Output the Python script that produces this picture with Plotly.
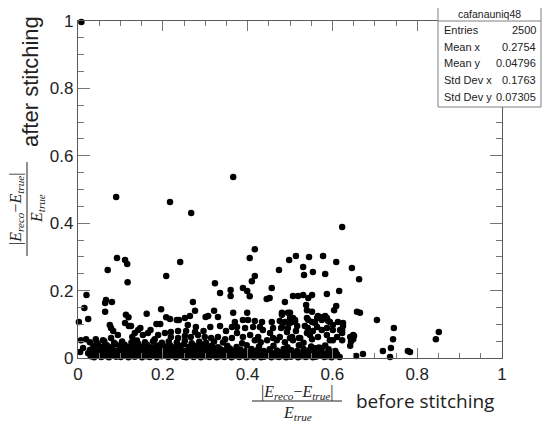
import plotly.graph_objects as go

# points, grouped by region of the scatter
outliers = [(0.008, 0.997), (0.090, 0.478), (0.217, 0.463), (0.267, 0.430), (0.366, 0.537),
            (0.623, 0.389), (0.417, 0.323), (0.092, 0.297), (0.111, 0.291), (0.116, 0.279),
            (0.241, 0.285), (0.070, 0.261), (0.117, 0.225), (0.208, 0.243), (0.020, 0.187),
            (0.405, 0.297), (0.417, 0.243), (0.410, 0.228), (0.323, 0.222), (0.335, 0.193),
            (0.360, 0.202), (0.360, 0.184), (0.389, 0.208), (0.399, 0.199), (0.405, 0.183),
            (0.457, 0.208), (0.445, 0.175), (0.452, 0.178), (0.498, 0.291), (0.514, 0.303),
            (0.545, 0.300), (0.578, 0.303), (0.609, 0.285), (0.474, 0.261), (0.531, 0.270),
            (0.533, 0.246), (0.554, 0.255), (0.583, 0.249), (0.646, 0.267), (0.663, 0.234),
            (0.616, 0.199), (0.587, 0.190), (0.507, 0.184), (0.519, 0.184), (0.531, 0.187),
            (0.552, 0.187), (0.543, 0.178), (0.488, 0.166), (0.538, 0.157), (0.540, 0.142),
            (0.552, 0.137), (0.609, 0.154), (0.604, 0.142), (0.658, 0.137), (0.665, 0.134),
            (0.705, 0.113), (0.745, 0.089), (0.743, 0.056), (0.738, 0.030), (0.719, 0.021),
            (0.778, 0.021), (0.783, 0.018), (0.851, 0.077), (0.844, 0.056), (0.672, 0.012),
            (0.656, 0.006), (0.736, 0.003)]

mid_scatter = [(0.370, 0.107), (0.363, 0.092), (0.389, 0.113), (0.401, 0.113), (0.417, 0.110),
               (0.434, 0.107), (0.375, 0.092), (0.394, 0.089), (0.413, 0.092), (0.429, 0.092),
               (0.481, 0.128), (0.495, 0.134), (0.507, 0.119), (0.488, 0.107), (0.500, 0.104),
               (0.512, 0.107), (0.481, 0.092), (0.495, 0.089), (0.517, 0.095), (0.540, 0.119),
               (0.552, 0.107), (0.564, 0.119), (0.578, 0.122), (0.587, 0.119), (0.594, 0.107),
               (0.601, 0.098), (0.613, 0.107), (0.625, 0.104), (0.542, 0.089), (0.564, 0.092),
               (0.575, 0.083), (0.587, 0.089), (0.601, 0.083), (0.623, 0.083), (0.547, 0.068),
               (0.566, 0.062), (0.587, 0.068), (0.594, 0.053), (0.611, 0.062), (0.623, 0.053),
               (0.642, 0.062), (0.649, 0.068), (0.493, 0.077), (0.476, 0.062), (0.505, 0.062),
               (0.469, 0.053), (0.488, 0.047), (0.507, 0.053), (0.524, 0.059), (0.436, 0.083),
               (0.453, 0.074), (0.425, 0.062), (0.446, 0.053), (0.460, 0.059), (0.406, 0.068),
               (0.417, 0.053), (0.389, 0.062), (0.375, 0.074), (0.363, 0.059), (0.002, 0.107),
               (0.015, 0.148), (0.024, 0.116), (0.064, 0.163), (0.066, 0.172), (0.064, 0.137),
               (0.080, 0.166), (0.075, 0.098), (0.078, 0.089), (0.083, 0.080), (0.113, 0.128),
               (0.119, 0.121), (0.111, 0.104), (0.120, 0.095), (0.162, 0.131), (0.196, 0.145),
               (0.185, 0.101), (0.194, 0.101), (0.208, 0.121), (0.217, 0.116), (0.233, 0.113),
               (0.238, 0.113), (0.252, 0.119), (0.264, 0.125), (0.276, 0.140), (0.271, 0.166),
               (0.301, 0.122), (0.307, 0.125), (0.321, 0.140), (0.330, 0.122), (0.335, 0.095),
               (0.349, 0.080), (0.366, 0.134), (0.399, 0.134), (0.278, 0.092), (0.259, 0.098),
               (0.276, 0.077), (0.255, 0.080), (0.236, 0.080), (0.219, 0.077), (0.205, 0.074),
               (0.189, 0.068), (0.165, 0.074), (0.153, 0.068), (0.142, 0.083), (0.134, 0.074),
               (0.094, 0.068), (0.078, 0.059), (0.059, 0.053), (0.042, 0.056), (0.028, 0.047),
               (0.019, 0.056), (0.007, 0.053), (0.005, 0.018), (0.012, 0.030), (0.219, 0.062),
               (0.236, 0.059), (0.252, 0.065), (0.266, 0.062), (0.283, 0.068), (0.299, 0.062),
               (0.314, 0.059), (0.330, 0.062), (0.347, 0.056), (0.457, 0.107), (0.460, 0.089),
               (0.476, 0.110), (0.479, 0.089), (0.500, 0.134), (0.500, 0.119), (0.512, 0.113),
               (0.618, 0.083), (0.601, 0.053), (0.575, 0.030), (0.644, 0.050), (0.649, 0.056),
               (0.651, 0.065), (0.642, 0.036), (0.625, 0.095), (0.623, 0.074), (0.583, 0.125),
               (0.590, 0.110), (0.575, 0.113), (0.566, 0.125), (0.559, 0.104), (0.554, 0.080),
               (0.552, 0.056), (0.540, 0.074), (0.535, 0.095), (0.543, 0.113), (0.514, 0.080),
               (0.500, 0.059), (0.521, 0.059), (0.481, 0.134), (0.128, 0.062), (0.147, 0.089),
               (0.171, 0.083), (0.181, 0.056), (0.125, 0.095), (0.296, 0.080), (0.312, 0.092)]

band_a = [(0.030, 0.005), (0.038, 0.002), (0.049, 0.007), (0.055, 0.003), (0.066, 0.006),
          (0.073, 0.002), (0.084, 0.008), (0.090, 0.004), (0.101, 0.003), (0.108, 0.007),
          (0.119, 0.002), (0.127, 0.006), (0.134, 0.004), (0.145, 0.008), (0.151, 0.002),
          (0.162, 0.005), (0.169, 0.003), (0.180, 0.007), (0.186, 0.002), (0.197, 0.005),
          (0.205, 0.008), (0.213, 0.003), (0.224, 0.006), (0.231, 0.002), (0.240, 0.007),
          (0.249, 0.004), (0.255, 0.002), (0.266, 0.006), (0.273, 0.003), (0.284, 0.008),
          (0.290, 0.002), (0.301, 0.005), (0.310, 0.003), (0.316, 0.007), (0.327, 0.002),
          (0.334, 0.005), (0.345, 0.003), (0.351, 0.008), (0.362, 0.002), (0.369, 0.006),
          (0.380, 0.003), (0.386, 0.007), (0.397, 0.002), (0.404, 0.005), (0.414, 0.003),
          (0.421, 0.006), (0.432, 0.002), (0.439, 0.004), (0.449, 0.007), (0.456, 0.002),
          (0.467, 0.005), (0.474, 0.003), (0.484, 0.006), (0.491, 0.002), (0.502, 0.004),
          (0.509, 0.007), (0.519, 0.002), (0.526, 0.005), (0.537, 0.003), (0.544, 0.006),
          (0.554, 0.002), (0.561, 0.004), (0.572, 0.007), (0.581, 0.003), (0.589, 0.005),
          (0.598, 0.002), (0.608, 0.006), (0.617, 0.003)]

band_b = [(0.024, 0.014), (0.034, 0.017), (0.043, 0.012), (0.051, 0.018), (0.060, 0.013),
          (0.069, 0.016), (0.078, 0.011), (0.087, 0.017), (0.095, 0.014), (0.104, 0.012),
          (0.113, 0.018), (0.122, 0.013), (0.130, 0.016), (0.139, 0.011), (0.148, 0.015),
          (0.157, 0.018), (0.165, 0.012), (0.174, 0.016), (0.183, 0.013), (0.191, 0.018),
          (0.200, 0.011), (0.209, 0.015), (0.218, 0.017), (0.226, 0.012), (0.235, 0.016),
          (0.244, 0.013), (0.252, 0.018), (0.261, 0.011), (0.270, 0.015), (0.279, 0.017),
          (0.287, 0.012), (0.296, 0.016), (0.305, 0.013), (0.313, 0.018), (0.322, 0.011),
          (0.331, 0.015), (0.340, 0.013), (0.349, 0.017), (0.358, 0.012), (0.366, 0.016),
          (0.375, 0.014), (0.384, 0.011), (0.393, 0.017), (0.402, 0.013), (0.411, 0.016),
          (0.420, 0.012), (0.428, 0.018), (0.437, 0.014), (0.446, 0.011), (0.455, 0.016),
          (0.464, 0.013), (0.473, 0.018), (0.482, 0.012), (0.491, 0.015), (0.500, 0.017),
          (0.509, 0.012), (0.518, 0.016), (0.527, 0.013), (0.536, 0.018), (0.545, 0.011),
          (0.554, 0.015), (0.563, 0.012), (0.572, 0.017), (0.584, 0.013), (0.596, 0.016),
          (0.611, 0.011)]

band_c = [(0.028, 0.024), (0.037, 0.028), (0.046, 0.022), (0.055, 0.027), (0.064, 0.023),
          (0.073, 0.029), (0.082, 0.024), (0.091, 0.021), (0.100, 0.027), (0.109, 0.023),
          (0.118, 0.029), (0.127, 0.022), (0.136, 0.026), (0.145, 0.030), (0.154, 0.023),
          (0.163, 0.027), (0.172, 0.021), (0.181, 0.025), (0.190, 0.029), (0.199, 0.023),
          (0.208, 0.027), (0.217, 0.022), (0.226, 0.026), (0.235, 0.030), (0.244, 0.024),
          (0.253, 0.021), (0.262, 0.027), (0.271, 0.023), (0.280, 0.029), (0.289, 0.022),
          (0.298, 0.026), (0.307, 0.024), (0.316, 0.028), (0.325, 0.022), (0.336, 0.026),
          (0.347, 0.023), (0.358, 0.028), (0.371, 0.022), (0.383, 0.025), (0.396, 0.021),
          (0.409, 0.027), (0.422, 0.023), (0.438, 0.021), (0.452, 0.026), (0.469, 0.022),
          (0.485, 0.027), (0.503, 0.023), (0.517, 0.021), (0.532, 0.027), (0.546, 0.024),
          (0.559, 0.029), (0.573, 0.022), (0.591, 0.026), (0.607, 0.021)]

band_d = [(0.036, 0.035), (0.047, 0.040), (0.058, 0.033), (0.068, 0.038), (0.079, 0.032),
          (0.089, 0.041), (0.098, 0.035), (0.110, 0.039), (0.121, 0.033), (0.131, 0.037),
          (0.142, 0.042), (0.153, 0.034), (0.163, 0.039), (0.174, 0.032), (0.185, 0.037),
          (0.196, 0.041), (0.206, 0.034), (0.217, 0.038), (0.228, 0.032), (0.239, 0.036),
          (0.250, 0.041), (0.261, 0.033), (0.272, 0.038), (0.283, 0.035), (0.294, 0.040),
          (0.305, 0.033), (0.316, 0.037), (0.330, 0.032), (0.352, 0.036), (0.374, 0.033),
          (0.398, 0.038), (0.427, 0.034), (0.461, 0.036), (0.494, 0.032), (0.521, 0.038),
          (0.550, 0.034), (0.568, 0.031), (0.583, 0.037)]

band_e = [(0.044, 0.047), (0.062, 0.050), (0.085, 0.045), (0.104, 0.049), (0.126, 0.046),
          (0.139, 0.052), (0.158, 0.047), (0.177, 0.050), (0.198, 0.045), (0.214, 0.049),
          (0.233, 0.046), (0.252, 0.051), (0.268, 0.044), (0.286, 0.048), (0.302, 0.045),
          (0.321, 0.049), (0.342, 0.046), (0.387, 0.044), (0.431, 0.047), (0.532, 0.045)]

stats_title = "cafanauniq48"
stats_names = ["Entries", "Mean x", "Mean y", "Std Dev x", "Std Dev y"]
stats_values = ["2500", "0.2754", "0.04796", "0.1763", "0.07305"]

# page has an 8px body margin, so the figure is 8px smaller than the window
OFF = 8
W, H = 550 - OFF, 426 - OFF
L, R, T, B = 78 - OFF, 48, 21 - OFF, 68


def px(x):
    # window pixel column -> paper x
    return (x - OFF - L) / (W - L - R)


def py(y):
    # window pixel row -> paper y
    return (H - B - (y - OFF)) / (H - T - B)


pts = outliers + mid_scatter + band_a + band_b + band_c + band_d + band_e
xs = [p[0] for p in pts]
ys = [p[1] for p in pts]

fig = go.Figure(go.Scatter(x=xs, y=ys, mode="markers", cliponaxis=False,
                           marker=dict(color="black", size=6.5, line_width=0)))

axcommon = dict(range=[0, 1], dtick=0.2, showgrid=False, zeroline=False,
                showline=True, linecolor="#5a5a5a", linewidth=1.3, mirror="ticks",
                ticks="inside", tickcolor="#777777", tickwidth=1,
                tickfont=dict(family="Liberation Sans, Arial", size=17, color="#222222"))

fig.update_layout(width=W, height=H, margin=dict(l=L, r=R, t=T, b=B, autoexpand=False),
                  paper_bgcolor="white", plot_bgcolor="white", showlegend=False,
                  xaxis=dict(axcommon, ticklen=10,
                             minor=dict(dtick=0.05, ticks="inside", ticklen=5, tickcolor="#777777")),
                  yaxis=dict(axcommon, ticklen=12,
                             minor=dict(dtick=0.05, ticks="inside", ticklen=6, tickcolor="#777777")))

math_font = dict(family="Liberation Serif, DejaVu Serif", size=16, color="#222222")
numer = "|<i>E</i><sub><i>reco</i></sub>\u2212<i>E</i><sub><i>true</i></sub>|"
denom = "<i>E</i><sub><i>true</i></sub>"

ann = []
# x axis title
ann.append(dict(x=px(297), y=py(392), text=numer, font=math_font))
ann.append(dict(x=px(297), y=py(413), text=denom, font=math_font))
ann.append(dict(x=px(354), y=py(401), text="before stitching", xanchor="left",
                font=dict(family="Open Sans", size=19, color="#222222")))
# y axis title
ann.append(dict(x=px(17), y=py(209), text=numer, textangle=-90, font=math_font))
ann.append(dict(x=px(38), y=py(209), text=denom, textangle=-90, font=math_font))
ann.append(dict(x=px(30), y=py(82), text="after stitching", textangle=-90,
                font=dict(family="Liberation Sans, Arial", size=22, color="#222222")))

# stats box
box_font = dict(family="Liberation Sans, Arial", size=11, color="#222222")
ann.append(dict(x=px(489.5), y=py(14.5), text=stats_title, font=dict(box_font, size=10.5)))
row_y = [30, 47, 63.5, 80, 97]
for name, val, ry in zip(stats_names, stats_values, row_y):
    ann.append(dict(x=px(442), y=py(ry), text=name, xanchor="left", font=box_font))
    ann.append(dict(x=px(538), y=py(ry), text=val, xanchor="right", font=box_font))

for a in ann:
    a.update(xref="paper", yref="paper", showarrow=False)
    a.setdefault("xanchor", "center")
    a.setdefault("yanchor", "middle")
fig.update_layout(annotations=ann)

fig.update_layout(shapes=[
    # fraction bars
    dict(type="line", xref="paper", yref="paper", x0=px(252), x1=px(342), y0=py(401), y1=py(401),
         line=dict(color="#222222", width=1)),
    dict(type="line", xref="paper", yref="paper", x0=px(27), x1=px(27), y0=py(162), y1=py(256),
         line=dict(color="#222222", width=1)),
    # stats box
    dict(type="rect", xref="paper", yref="paper", layer="above",
         x0=px(438), x1=px(541), y0=py(107), y1=py(4),
         fillcolor="white", line=dict(color="#808080", width=1)),
    dict(type="line", xref="paper", yref="paper", layer="above",
         x0=px(438), x1=px(541), y0=py(21), y1=py(21),
         line=dict(color="#808080", width=1)),
])

fig.write_html("out.html")
